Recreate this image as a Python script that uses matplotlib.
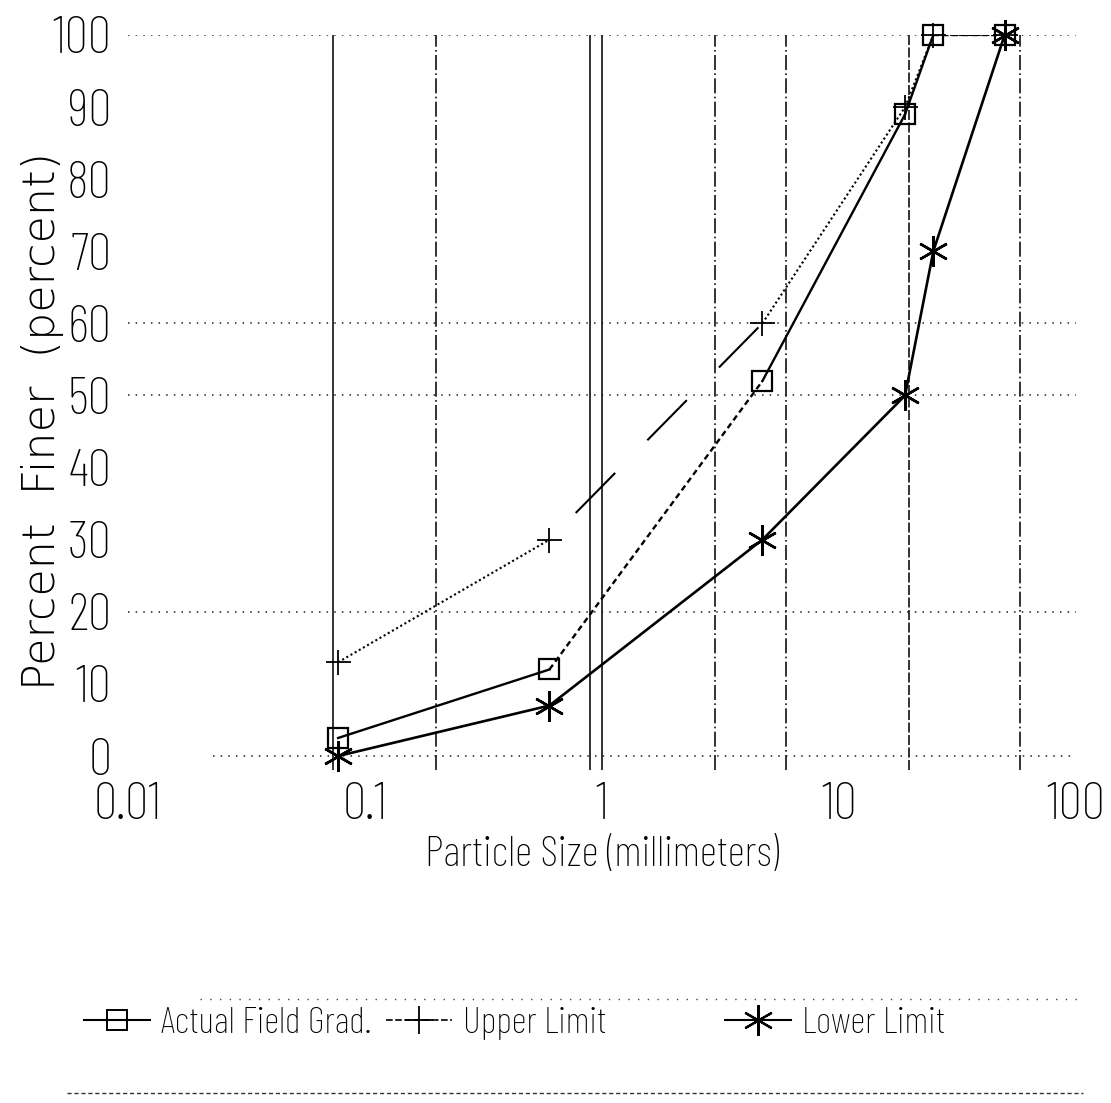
import matplotlib
matplotlib.use("Agg")
import matplotlib.pyplot as plt
from matplotlib.lines import Line2D

# sieve openings (mm) and percent passing
sizes = [0.077, 0.6, 4.75, 19, 25, 50]
actual = [2.5, 12, 52, 89, 100, 100]
upper = [13, 30, 60, 90, 100, 100]
lower = [0, 7, 30, 50, 70, 100]

# line style of each segment between two sieves
dots = (0, (1, 1.3))
short_dash = (0, (2.5, 1.6))
long_dash = (31, (27, 22))
actual_styles = ['-', short_dash, '-', '-', short_dash]
upper_styles = [dots, long_dash, dots, dots, short_dash]

# reference lines
grid_x = [0.073, 0.2, 0.89, 1.0, 3.0, 6.0, 19.8, 58]
dash_dot = (0, (9, 2, 1, 2))
grid_x_styles = ['-', dash_dot, '-', '-', dash_dot, dash_dot, (0, (6, 1.5)), dash_dot]
grid_y = [0, 20, 50, 60, 100]

x_ticks = [0.01, 0.1, 1, 10, 100]
x_ticklabels = ['0.01', '0.1', '1', '10', '100']
y_ticks = [0, 10, 20, 30, 40, 50, 60, 70, 80, 90, 100]

narrow = ['Saira Extra Condensed', 'Barlow Condensed', 'DejaVu Sans']

fig = plt.figure(figsize=(11.11, 11.03), dpi=100)
ax = fig.add_axes([0.1152, 0.3015, 0.8533, 0.6668])
ax.set_xscale('log')
ax.set_xlim(0.01, 100)
ax.set_ylim(-2, 100)
for s in ax.spines.values():
    s.set_visible(False)

for gx, ls in zip(grid_x, grid_x_styles):
    ax.axvline(gx, color='#111111', lw=1.2, ls=ls, zorder=1)
for gy in grid_y:
    start = 0.09 if gy == 0 else 0.0
    ax.axhline(gy, xmin=start, color='#222222', lw=1.1, ls=(0, (1, 4)), zorder=1)

asterisk = (6, 2, 0)

for i, ls in enumerate(actual_styles):
    ax.plot(sizes[i:i + 2], actual[i:i + 2], color='black', lw=1.7, ls=ls, zorder=3)
for i, ls in enumerate(upper_styles):
    ax.plot(sizes[i:i + 2], upper[i:i + 2], color='black', lw=1.5, ls=ls, zorder=3)
ax.plot(sizes, lower, color='black', lw=1.9, zorder=3)

ax.plot(sizes, actual, ls='none', marker='s', ms=15, mfc='none', mec='black',
        mew=1.6, clip_on=False, zorder=4)
ax.plot(sizes, upper, ls='none', marker='+', ms=18, mec='black', mew=1.3,
        clip_on=False, zorder=4)
ax.plot(sizes, lower, ls='none', marker=asterisk, ms=22, mec='black', mew=1.8,
        clip_on=False, zorder=4)

ax.set_xticks(x_ticks)
ax.set_xticklabels(x_ticklabels)
ax.set_xticks([], minor=True)
ax.set_yticks(y_ticks)
ax.tick_params(axis='both', length=0, labelsize=38)
ax.tick_params(axis='x', pad=8)
ax.tick_params(axis='y', pad=12)
for lab in ax.get_xticklabels() + ax.get_yticklabels():
    lab.set_fontfamily(narrow)
    lab.set_fontweight('light')

ax.set_xlabel('Particle Size (millimeters)', fontsize=31, family=narrow,
              fontweight='light', va='center')
ax.xaxis.set_label_coords(0.5, -0.116)
ax.set_ylabel('Percent  Finer  (percent)', fontsize=32, family='DejaVu Sans',
              fontweight='light', va='center')
ax.yaxis.set_label_coords(-0.09, 0.475)

# legend, one entry per column
entries = [
    (Line2D([], [], color='black', lw=1.5, marker='s', ms=15, mfc='none', mew=1.4),
     'Actual Field Grad.', 0.076),
    (Line2D([], [], color='black', lw=1.2, ls=(0, (4, 1.5)), marker='+', ms=20, mew=1.3),
     'Upper Limit', 0.3475),
    (Line2D([], [], color='black', lw=1.5, marker=asterisk, ms=22, mew=1.6),
     'Lower Limit', 0.6526),
]
for handle, text, xpos in entries:
    fig.legend([handle], [text], loc='center left', bbox_to_anchor=(xpos, 0.0725),
               frameon=False, borderpad=0, borderaxespad=0, handlelength=1.75,
               handletextpad=0.3, prop={'family': narrow, 'size': 27, 'weight': 'light'})

fig.add_artist(Line2D([0.18, 0.975], [0.094, 0.094], color='#444444', lw=1,
                      ls=(0, (1, 6))))
fig.add_artist(Line2D([0.06, 0.975], [0.0095, 0.0095], color='#333333', lw=1,
                      ls=(0, (3, 2))))

fig.savefig('out.png', dpi=100)
